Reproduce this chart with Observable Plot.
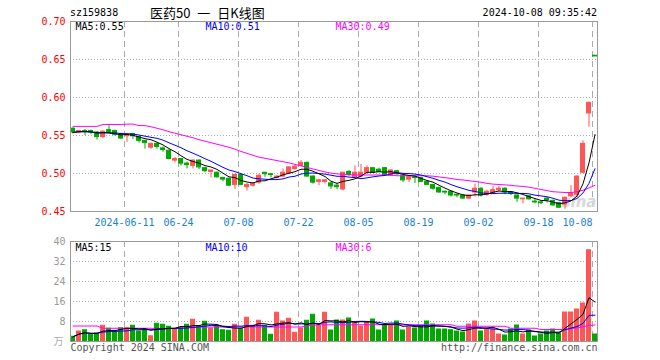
<!DOCTYPE html>
<html><head><meta charset="utf-8">
<script src="https://cdn.jsdelivr.net/npm/d3@7"></script>
<script src="https://cdn.jsdelivr.net/npm/@observablehq/plot@0.6"></script>
<style>
body{margin:0;background:#fff;}
#wrap{position:relative;width:660px;height:360px;overflow:hidden;font-family:"DejaVu Sans Mono",monospace;background:#fff;}
.t{position:absolute;white-space:nowrap;line-height:1;z-index:2;color:#000;}
.c{position:absolute;left:0;z-index:1;}
</style></head><body>
<div id="wrap">
  <div class="t" style="left:70px;top:8px;font-size:10px;">sz159838</div>
  <div class="t" style="left:150px;top:6px;font-size:13px;word-spacing:4px;font-family:'Noto Sans CJK SC',sans-serif;">医药50 一 日K线图</div>
  <div class="t" style="right:63px;top:8px;font-size:10px;">2024-10-08 09:35:42</div>
  <div id="price" class="c" style="top:0"></div>
  <div id="vol" class="c" style="top:230px"></div>
</div>
<script>
// ---- data ----
const open  = [0.559,0.554,0.556,0.556,0.554,0.548,0.557,0.556,0.552,0.549,0.552,0.548,0.543,0.534,0.539,0.533,0.530,0.517,0.519,0.513,0.510,0.517,0.507,0.502,0.501,0.494,0.493,0.485,0.498,0.482,0.484,0.488,0.501,0.499,0.494,0.496,0.500,0.506,0.510,0.514,0.496,0.489,0.489,0.487,0.484,0.479,0.502,0.495,0.496,0.501,0.507,0.505,0.507,0.497,0.503,0.497,0.492,0.495,0.494,0.489,0.485,0.481,0.476,0.476,0.472,0.471,0.467,0.475,0.480,0.472,0.474,0.478,0.480,0.475,0.471,0.466,0.470,0.463,0.462,0.467,0.464,0.461,0.459,0.470,0.472,0.501,0.579,0.655];
const high  = [0.560,0.556,0.558,0.557,0.555,0.556,0.563,0.557,0.553,0.552,0.553,0.549,0.543,0.540,0.540,0.535,0.531,0.521,0.519,0.515,0.518,0.518,0.508,0.504,0.502,0.495,0.494,0.499,0.499,0.487,0.488,0.499,0.501,0.499,0.497,0.506,0.509,0.511,0.517,0.515,0.497,0.492,0.492,0.488,0.487,0.501,0.504,0.510,0.512,0.510,0.507,0.507,0.508,0.505,0.504,0.498,0.496,0.497,0.495,0.490,0.485,0.482,0.477,0.477,0.473,0.472,0.472,0.486,0.481,0.478,0.483,0.483,0.481,0.476,0.472,0.467,0.471,0.466,0.464,0.468,0.465,0.462,0.469,0.484,0.497,0.543,0.594,0.655];
const low   = [0.552,0.552,0.550,0.551,0.544,0.546,0.553,0.549,0.545,0.541,0.545,0.540,0.532,0.532,0.532,0.528,0.518,0.514,0.510,0.506,0.506,0.505,0.501,0.494,0.494,0.489,0.483,0.479,0.484,0.477,0.482,0.486,0.495,0.494,0.493,0.495,0.499,0.504,0.509,0.495,0.486,0.484,0.486,0.479,0.479,0.477,0.496,0.494,0.494,0.499,0.500,0.501,0.497,0.496,0.497,0.488,0.488,0.487,0.488,0.484,0.478,0.474,0.472,0.469,0.468,0.466,0.466,0.469,0.469,0.470,0.473,0.476,0.472,0.471,0.462,0.460,0.465,0.460,0.459,0.461,0.457,0.454,0.453,0.468,0.468,0.500,0.561,0.654];
const close = [0.554,0.556,0.555,0.554,0.548,0.555,0.554,0.551,0.546,0.551,0.549,0.543,0.540,0.539,0.535,0.531,0.519,0.519,0.513,0.511,0.517,0.508,0.503,0.504,0.495,0.492,0.484,0.498,0.485,0.485,0.486,0.497,0.499,0.498,0.496,0.501,0.508,0.509,0.514,0.496,0.488,0.491,0.491,0.483,0.482,0.501,0.498,0.501,0.501,0.507,0.501,0.502,0.498,0.504,0.499,0.491,0.495,0.494,0.489,0.485,0.480,0.475,0.475,0.471,0.471,0.467,0.471,0.480,0.471,0.476,0.478,0.480,0.475,0.473,0.467,0.467,0.466,0.462,0.461,0.465,0.458,0.455,0.468,0.474,0.496,0.539,0.593,0.654];
const ma30  = [0.562,0.562,0.562,0.562,0.562,0.5645,0.5645,0.5645,0.5645,0.565,0.565,0.563,0.563,0.5615,0.5595,0.5575,0.555,0.553,0.551,0.549,0.547,0.5445,0.5425,0.5405,0.5385,0.5365,0.5345,0.532,0.529,0.5265,0.524,0.5215,0.520,0.5185,0.517,0.5155,0.514,0.512,0.510,0.508,0.506,0.504,0.502,0.5005,0.4995,0.499,0.4985,0.498,0.498,0.498,0.498,0.498,0.498,0.498,0.497,0.497,0.497,0.497,0.497,0.497,0.4965,0.4955,0.4945,0.4935,0.492,0.4915,0.4905,0.4895,0.4885,0.487,0.486,0.4855,0.485,0.4845,0.4835,0.483,0.482,0.4805,0.479,0.4775,0.476,0.4755,0.475,0.475,0.476,0.478,0.481,0.4845];
const volume = [1.9,4.0,4.5,2.7,3.2,6.3,5.1,4.3,5.3,5.3,6.3,4.0,4.8,2.1,7.1,6.7,5.9,4.8,5.5,6.7,8.7,6.1,7.9,5.2,6.1,4.5,4.3,6.7,5.0,9.5,6.3,8.3,6.3,2.7,11.5,8.0,9.1,3.5,5.2,8.3,10.7,6.3,11.5,4.4,8.4,8.4,9.2,7.7,6.0,7.7,8.8,4.4,6.7,6.7,8.0,4.4,5.6,5.2,6.0,8.0,6.8,4.8,4.8,4.5,4.0,3.6,6.8,8.0,4.0,4.8,4.8,2.8,2.4,4.8,6.4,2.8,4.4,2.0,2.8,4.0,4.8,3.2,11.6,11.6,12.8,15.2,36.5,2.8];
const volMa30 = [6.2,6.2,6.2,6.2,6.2,5.3,5.3,5.3,5.3,5.3,5.3,5.3,5.3,5.3,5.2,5.2,5.2,5.2,5.8,5.8,5.8,5.8,5.8,5.8,5.8,5.8,5.8,5.8,5.8,5.8,5.8,5.8,5.8,5.8,5.8,5.8,5.8,5.8,5.8,6.2,6.5,6.7,6.7,6.7,6.7,6.7,6.7,6.7,6.7,6.7,6.7,6.7,6.7,6.7,6.7,6.7,6.7,6.7,6.7,6.7,6.7,6.7,6.7,6.7,6.1,6.1,6.1,6.1,6.1,6.1,6.1,6.1,6.1,5.3,5.3,5.3,5.3,5.3,4.8,4.8,4.8,4.8,4.8,5.1,5.5,5.9,6.4,6.6];
const tickIdx    = [9,18,28,38,48,58,68,78,87];
const tickLabels = ["2024-06-11","06-24","07-08","07-22","08-05","08-19","09-02","09-18","10-08"];
const priceTicks = [0.45,0.50,0.55,0.60,0.65,0.70];
const priceGrid  = [0.50,0.55,0.60,0.65];
const volTicks   = [8,16,24,32,40];
const volGrid    = [8,16,24,32];
const priceLegend = ["MA5:0.55","MA10:0.51","MA30:0.49"];
const volLegend   = ["MA5:15","MA10:10","MA30:6"];

// ---- build ----
const RED = "#ff5555", GREEN = "#00a800";
const MONO = "DejaVu Sans Mono, monospace";
const rows = close.map((c, i) => ({
  i, o: open[i], h: high[i], l: low[i], c, v: volume[i],
  m30: ma30[i], vm30: volMa30[i],
  col: c >= open[i] ? RED : GREEN
}));
const ticks = tickIdx.map((d, j) => ({x: d - 5/12, label: tickLabels[j]}));
const half = 5/12, bw = 1/3;
const xDomain = [-half, 87 + half];
const legendColors = ["#000", "#0000ff", "#ff00ff"];
const legendDx = [5, 135, 265];
const font = {fontFamily: MONO, fontSize: "10px", background: "transparent", overflow: "visible"};

function legend(texts, dy) {
  return texts.map((t, j) => Plot.text([t], {
    frameAnchor: "top-left", dx: legendDx[j], dy, lineAnchor: "middle",
    textAnchor: "start", fill: legendColors[j], fontSize: 10, fontFamily: MONO
  }));
}

const price = Plot.plot({
  width: 660, height: 230,
  marginLeft: 70, marginRight: 63, marginTop: 21, marginBottom: 19,
  x: {domain: xDomain, axis: null},
  y: {domain: [0.45, 0.70], axis: null},
  style: font,
  marks: [
    Plot.ruleY(priceGrid, {stroke: "#aaa", strokeDasharray: "1,2"}),
    Plot.ruleX(ticks, {x: "x", stroke: "#aaa", strokeDasharray: "6,4"}),
    Plot.text(["sina"], {frameAnchor: "bottom-right", dx: -1, dy: -9, textAnchor: "end", lineAnchor: "middle",
      fill: "#d8d8d8", fontSize: 15, fontStyle: "italic", fontWeight: "bold", fontFamily: "DejaVu Sans"}),
    Plot.ruleX(rows, {x: "i", y1: "l", y2: "h", stroke: "col", strokeWidth: 1}),
    Plot.rect(rows, {x1: d => d.i - bw, x2: d => d.i + bw, y1: "o", y2: "c", fill: "col", stroke: "col", strokeWidth: 1}),
    Plot.line(rows, {x: "i", y: "m30", stroke: "#ff00ff", strokeWidth: 1}),
    Plot.lineY(rows, Plot.windowY({k: 10, anchor: "end"}, {x: "i", y: "c", stroke: "#0000ff", strokeWidth: 1})),
    Plot.lineY(rows, Plot.windowY({k: 5, anchor: "end"}, {x: "i", y: "c", stroke: "#000", strokeWidth: 1})),
    Plot.frame({stroke: "#999"}),
    Plot.axisY(priceTicks, {tickSize: 0, tickPadding: 5, tickFormat: d3.format(".2f"), fill: "#f00", fontSize: 10, fontFamily: MONO}),
    Plot.text(ticks.slice(0, -1), {x: "x", text: "label", frameAnchor: "bottom", dy: 11, lineAnchor: "middle", textAnchor: "middle", fill: "#1a80d8", fontSize: 10, fontFamily: MONO}),
    Plot.text(ticks.slice(-1), {x: "x", text: "label", frameAnchor: "bottom", dy: 11, lineAnchor: "middle", textAnchor: "end", fill: "#1a80d8", fontSize: 10, fontFamily: MONO}),
    ...legend(priceLegend, 5)
  ]
});
document.getElementById("price").appendChild(price);

const vol = Plot.plot({
  width: 660, height: 130,
  marginLeft: 70, marginRight: 63, marginTop: 11, marginBottom: 19,
  x: {domain: xDomain, axis: null},
  y: {domain: [0, 40], axis: null},
  style: font,
  marks: [
    Plot.ruleY(volGrid, {stroke: "#aaa", strokeDasharray: "1,2"}),
    Plot.ruleX(ticks, {x: "x", stroke: "#aaa", strokeDasharray: "6,4"}),
    Plot.rect(rows, {x1: d => d.i - bw, x2: d => d.i + bw, y1: 0, y2: "v", fill: "col", stroke: "col", strokeWidth: 1}),
    Plot.line(rows, {x: "i", y: "vm30", stroke: "#ff00ff", strokeWidth: 1}),
    Plot.lineY(rows, Plot.windowY({k: 10, anchor: "end"}, {x: "i", y: "v", stroke: "#0000ff", strokeWidth: 1})),
    Plot.lineY(rows, Plot.windowY({k: 5, anchor: "end"}, {x: "i", y: "v", stroke: "#000", strokeWidth: 1})),
    Plot.frame({stroke: "#999"}),
    Plot.axisY(volTicks, {tickSize: 0, tickPadding: 5, fill: "#999", fontSize: 10, fontFamily: MONO}),
    Plot.text(["万"], {frameAnchor: "bottom-left", dx: -7, dy: 0, textAnchor: "end", lineAnchor: "middle", fill: "#aaa", fontSize: 10, fontFamily: "Noto Sans CJK SC"}),
    Plot.text(["Copyright 2024 SINA.COM"], {frameAnchor: "bottom-left", dy: 6, textAnchor: "start", lineAnchor: "middle", fill: "#555", fontSize: 10, fontFamily: MONO}),
    Plot.text(["http://finance.sina.com.cn"], {frameAnchor: "bottom-right", dy: 6, textAnchor: "end", lineAnchor: "middle", fill: "#555", fontSize: 10, fontFamily: MONO}),
    ...legend(volLegend, 6)
  ]
});
document.getElementById("vol").appendChild(vol);
</script>
</body></html>
